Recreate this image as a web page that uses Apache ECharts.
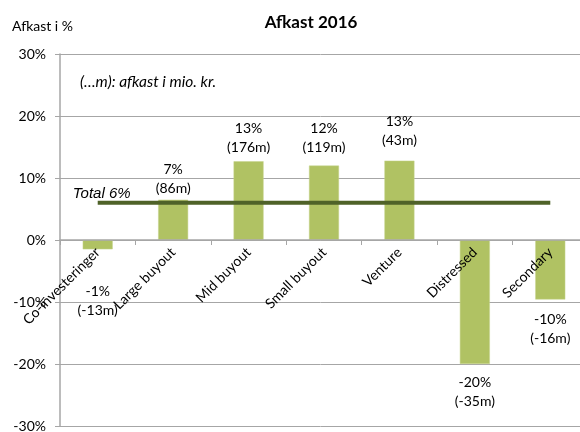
<!DOCTYPE html>
<html>
<head>
<meta charset="utf-8">
<script src="https://cdn.jsdelivr.net/npm/echarts@6/dist/echarts.min.js"></script>
<style>
  html, body { margin: 0; padding: 0; background: #fff; }
  #chart { width: 580px; height: 432px; }
</style>
</head>
<body>
<div id="chart"></div>
<script>
// data
const categories = ["Co-investeringer", "Large buyout", "Mid buyout", "Small buyout", "Venture", "Distressed", "Secondary"];
const returns = [-1.5, 6.5, 12.7, 12.0, 12.8, -20.0, -9.6];
const pctLabels = ["-1%", "7%", "13%", "12%", "13%", "-20%", "-10%"];
const mioLabels = ["(-13m)", "(86m)", "(176m)", "(119m)", "(43m)", "(-35m)", "(-16m)"];
const totalReturn = 6;
const yTicks = [-30, -20, -10, 0, 10, 20, 30];

const font = "Lato, 'Open Sans', sans-serif";
const gray = "#a6a6a6";
const gridH = 372;

// how far each data label sits from its bar end (hand placed in the original)
const labelGap = [33, 2, 4, 9, 11, 9, 10];

const chart = echarts.init(document.getElementById("chart"));

const barData = returns.map((v, i) => ({
  value: v,
  label: {
    position: v < 0 ? "bottom" : "top",
    distance: labelGap[i],
    formatter: pctLabels[i] + "\n" + mioLabels[i]
  }
}));

chart.setOption({
  animation: false,
  textStyle: { fontFamily: font },
  title: {
    text: "Afkast 2016",
    left: 306,
    top: 9,
    textAlign: "center",
    textStyle: { fontSize: 17, fontWeight: "bold", color: "#000", fontFamily: font }
  },
  graphic: [
    {
      type: "text", left: 12, top: 19,
      style: { text: "Afkast i %", fontSize: 14, fill: "#000", fontFamily: font }
    },
    {
      type: "text", left: 80, top: 74,
      style: { text: "(…m): afkast i mio. kr.", fontSize: 15.5, fontStyle: "italic", fill: "#000", fontFamily: font }
    }
  ],
  grid: { left: 60, top: 54, width: 528, height: gridH, containLabel: false, outerBoundsMode: "none" },
  xAxis: {
    type: "category",
    data: categories,
    z: 10,
    // y range is symmetric, so zero sits half way up the grid
    offset: -gridH / 2,
    axisLine: { onZero: false, lineStyle: { color: gray, width: 1.5 } },
    axisTick: { show: true, length: 5, lineStyle: { color: gray } },
    axisLabel: { rotate: 45, margin: 10, fontSize: 14, color: "#000", fontFamily: font, interval: 0 }
  },
  yAxis: {
    type: "value",
    min: yTicks[0],
    max: yTicks[yTicks.length - 1],
    interval: 10,
    axisLine: { show: true, lineStyle: { color: gray, width: 1.5 } },
    axisTick: { show: true, length: 5, lineStyle: { color: gray } },
    axisLabel: { formatter: "{value}%", fontSize: 14, color: "#000", margin: 14, fontFamily: font },
    splitLine: { lineStyle: { color: gray, width: 1 } }
  },
  series: [
    {
      type: "bar",
      data: barData,
      barWidth: 30,
      itemStyle: { color: "#b0c263", borderColor: "#c6d48e", borderWidth: 0.5 },
      label: { show: true, fontSize: 14, lineHeight: 19, color: "#000", fontFamily: font }
    },
    {
      type: "line",
      data: categories.map(() => totalReturn),
      symbol: "none",
      lineStyle: { color: "#4f6228", width: 4 },
      z: 5,
      markPoint: {
        symbol: "rect",
        symbolSize: [2, 2],
        itemStyle: { color: "rgba(0,0,0,0)" },
        data: [{ coord: [0, totalReturn], value: totalReturn }],
        label: {
          show: true,
          formatter: "Total " + totalReturn + "%",
          position: "top",
          offset: [4, 0],
          distance: 0,
          fontSize: 15,
          fontStyle: "italic",
          color: "#000",
          fontFamily: "'Liberation Sans', Arial, sans-serif"
        }
      }
    }
  ]
});
</script>
</body>
</html>
